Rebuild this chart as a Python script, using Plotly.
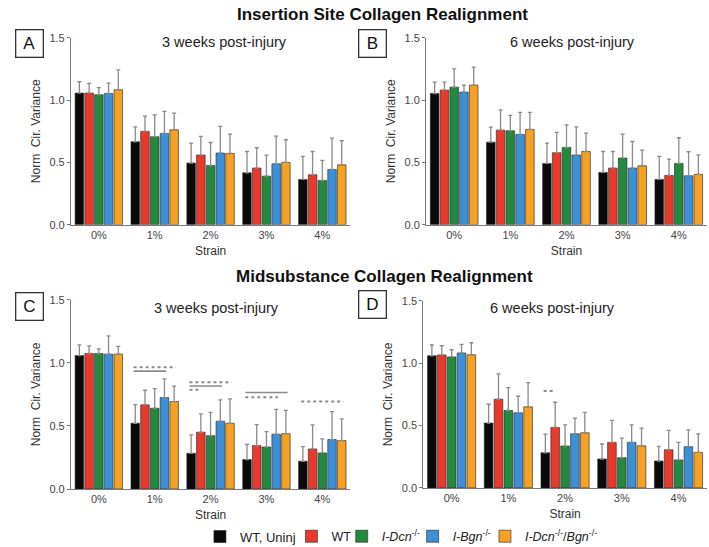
import plotly.graph_objects as go

strains = ["0%", "1%", "2%", "3%", "4%"]
series_names = ["WT, Uninj", "WT", "<i>I-Dcn</i><sup>-/-</sup>", "<i>I-Bgn</i><sup>-/-</sup>",
                "<i>I-Dcn</i><sup>-/-</sup>/<i>Bgn</i><sup>-/-</sup>"]
colors = ["#0a0a0a", "#e83a2c", "#23893f", "#3d8fd6", "#f4a125"]

# Panel A: insertion site, 3 weeks (mean, upper error tip)
A_mean = [[1.056, 0.666, 0.495, 0.417, 0.364],
          [1.056, 0.749, 0.559, 0.455, 0.401],
          [1.043, 0.706, 0.476, 0.390, 0.356],
          [1.053, 0.733, 0.575, 0.489, 0.444],
          [1.083, 0.762, 0.572, 0.500, 0.481]]
A_top = [[1.147, 0.786, 0.655, 0.588, 0.548],
         [1.134, 0.872, 0.709, 0.618, 0.588],
         [1.100, 0.882, 0.660, 0.559, 0.516],
         [1.136, 0.909, 0.789, 0.711, 0.695],
         [1.243, 0.896, 0.727, 0.682, 0.674]]
# Panel B: insertion site, 6 weeks
B_mean = [[1.053, 0.663, 0.492, 0.420, 0.364],
          [1.080, 0.759, 0.578, 0.455, 0.396],
          [1.104, 0.754, 0.620, 0.535, 0.492],
          [1.064, 0.725, 0.559, 0.455, 0.393],
          [1.120, 0.765, 0.588, 0.473, 0.404]]
B_top = [[1.144, 0.783, 0.655, 0.588, 0.548],
         [1.144, 0.922, 0.741, 0.588, 0.527],
         [1.251, 0.877, 0.802, 0.727, 0.698],
         [1.120, 0.901, 0.786, 0.668, 0.586],
         [1.265, 0.901, 0.735, 0.599, 0.561]]
# Panel C: midsubstance, 3 weeks
C_mean = [[1.058, 0.521, 0.283, 0.233, 0.220],
          [1.074, 0.667, 0.450, 0.344, 0.317],
          [1.074, 0.640, 0.423, 0.333, 0.286],
          [1.069, 0.725, 0.537, 0.434, 0.392],
          [1.069, 0.693, 0.521, 0.439, 0.384]]
C_top = [[1.143, 0.669, 0.429, 0.354, 0.336],
         [1.135, 0.783, 0.595, 0.511, 0.508],
         [1.111, 0.796, 0.608, 0.455, 0.397],
         [1.214, 0.873, 0.706, 0.632, 0.614],
         [1.130, 0.815, 0.714, 0.624, 0.556]]
# Panel D: midsubstance, 6 weeks
D_mean = [[1.060, 0.520, 0.282, 0.232, 0.216],
          [1.066, 0.711, 0.485, 0.365, 0.306],
          [1.050, 0.621, 0.336, 0.242, 0.224],
          [1.082, 0.602, 0.434, 0.365, 0.330],
          [1.068, 0.650, 0.442, 0.338, 0.285]]
D_top = [[1.146, 0.671, 0.432, 0.352, 0.333],
         [1.140, 0.914, 0.687, 0.541, 0.461],
         [1.108, 0.805, 0.506, 0.400, 0.365],
         [1.151, 0.735, 0.560, 0.506, 0.466],
         [1.164, 0.845, 0.605, 0.480, 0.434]]

# significance bars: (panel, group, first series, last series, y, style)
sig_bars = [("C", 1, 0, 4, 0.966, "star"), ("C", 1, 0, 3, 0.934, "solid"),
            ("C", 2, 0, 4, 0.847, "star"), ("C", 2, 0, 3, 0.817, "solid"),
            ("C", 2, 0, 0.7, 0.786, "star"),
            ("C", 3, 0, 4, 0.765, "solid"), ("C", 3, 0, 3, 0.728, "star"),
            ("C", 4, 0, 4, 0.693, "star"),
            ("D", 2, 0, 0.7, 0.778, "star")]

# panel: label, data, axes, x domain, y domain, subtitle, subtitle pos, label-box pos
panels = [("A", A_mean, A_top, "x", "y", [0.100, 0.494], [0.589, 0.931], "3 weeks post-injury",
           (0.317, 0.923), (0.042, 0.920)),
          ("B", B_mean, B_top, "x2", "y2", [0.601, 0.997], [0.589, 0.931], "6 weeks post-injury",
           (0.807, 0.923), (0.526, 0.920)),
          ("C", C_mean, C_top, "x3", "y3", [0.100, 0.494], [0.106, 0.452], "3 weeks post-injury",
           (0.305, 0.437), (0.042, 0.439)),
          ("D", D_mean, D_top, "x4", "y4", [0.597, 0.997], [0.108, 0.450], "6 weeks post-injury",
           (0.779, 0.437), (0.526, 0.444))]

# one small legend per series, placed along the bottom row
legend_x = [0.282, 0.411, 0.482, 0.582, 0.684]

BARGAP = 0.13
GROUPGAP = 0.12
n_series = len(series_names)

def bar_center(group, s):
    w = (1 - BARGAP) / n_series
    return group - (1 - BARGAP) / 2 + (s + 0.5) * w

font_family = "Liberation Sans, Arial, sans-serif"
fig = go.Figure()
layout = dict(
    width=709, height=547, margin=dict(l=0, r=0, t=0, b=0, autoexpand=False),
    paper_bgcolor="white", plot_bgcolor="white",
    barmode="group", bargap=BARGAP, bargroupgap=GROUPGAP,
    font=dict(family=font_family, color="#333333"),
    showlegend=True,
)
for s in range(n_series):
    key = "legend" if s == 0 else "legend%d" % (s + 1)
    layout[key] = dict(orientation="h", x=legend_x[s], y=0.019, xanchor="left", yanchor="middle",
                       font=dict(size=12.5 if s > 0 else 13, color="#222222"), itemwidth=30,
                       bgcolor="rgba(0,0,0,0)")
shapes = []
annotations = []

for pi, (label, means, tops, xa, ya, xdom, ydom, sub, subpos, boxpos) in enumerate(panels):
    for s in range(n_series):
        errs = [round(t - m, 3) for t, m in zip(tops[s], means[s])]
        fig.add_trace(go.Bar(
            x=list(range(len(strains))), y=means[s], name=series_names[s],
            marker=dict(color=colors[s], line=dict(color="#222222", width=0.6)),
            error_y=dict(type="data", array=errs, arrayminus=[0] * len(errs), symmetric=False,
                         color="#8a8a8a", thickness=1.3, width=2),
            xaxis=xa, yaxis=ya, showlegend=(pi == 0),
            legend=("legend" if s == 0 else "legend%d" % (s + 1)),
        ))
    xkey = "xaxis" if xa == "x" else "xaxis" + xa[1:]
    ykey = "yaxis" if ya == "y" else "yaxis" + ya[1:]
    layout[xkey] = dict(domain=xdom, anchor=ya, range=[-0.5, 4.5], automargin=False,
                        tickmode="array", tickvals=list(range(len(strains))), ticktext=strains,
                        showline=True, linecolor="#7a7a7a", linewidth=1, ticks="",
                        tickfont=dict(size=11, color="#444444"), showgrid=False, zeroline=False,
                        title=dict(text="Strain", font=dict(size=12, color="#333333"), standoff=6))
    layout[ykey] = dict(domain=ydom, anchor=xa, range=[0, 1.5], automargin=False,
                        tickmode="array", tickvals=[0, 0.5, 1.0, 1.5],
                        ticktext=["0.0", "0.5", "1.0", "1.5"],
                        showline=True, linecolor="#7a7a7a", linewidth=1, ticks="outside",
                        ticklen=3, tickcolor="#7a7a7a",
                        tickfont=dict(size=11, color="#444444"), showgrid=False, zeroline=False,
                        title=dict(text="Norm  Cir. Variance", font=dict(size=12, color="#333333"),
                                   standoff=6))
    annotations.append(dict(text=sub, x=subpos[0], y=subpos[1], xanchor="center",
                            xref="paper", yref="paper", showarrow=False, yanchor="middle",
                            font=dict(size=14.5, color="#222222")))
    annotations.append(dict(text=label, x=boxpos[0], y=boxpos[1], xref="paper", yref="paper",
                            showarrow=False, font=dict(size=17, color="#111111"),
                            bordercolor="#333333", borderwidth=1.3, borderpad=3,
                            width=20, height=20, xanchor="center", yanchor="middle"))
    for (pl, g, s0, s1, yv, style) in sig_bars:
        if pl != label:
            continue
        x0 = bar_center(g, s0) - 0.03
        x1 = bar_center(g, s1) + 0.03 if s1 == int(s1) else bar_center(g, 0) + 0.18
        shapes.append(dict(type="line", xref=xa, yref=ya, x0=x0, x1=x1, y0=yv, y1=yv,
                           line=dict(color="#8a8a8a", width=2 if style == "star" else 1.6,
                                     dash="dot" if style == "star" else "solid")))

annotations.append(dict(text="<b>Insertion Site Collagen Realignment</b>", x=0.539, y=0.974,
                        xref="paper", yref="paper", showarrow=False, yanchor="middle",
                        xanchor="center", font=dict(size=17, color="#111111")))
annotations.append(dict(text="<b>Midsubstance Collagen Realignment</b>", x=0.543, y=0.495,
                        xref="paper", yref="paper", showarrow=False, yanchor="middle",
                        xanchor="center", font=dict(size=17, color="#111111")))

layout["shapes"] = shapes
layout["annotations"] = annotations
fig.update_layout(**layout)
fig.write_html("out.html", config={"displayModeBar": False},
               post_script="document.body.style.margin='0';document.body.style.overflow='hidden';")
